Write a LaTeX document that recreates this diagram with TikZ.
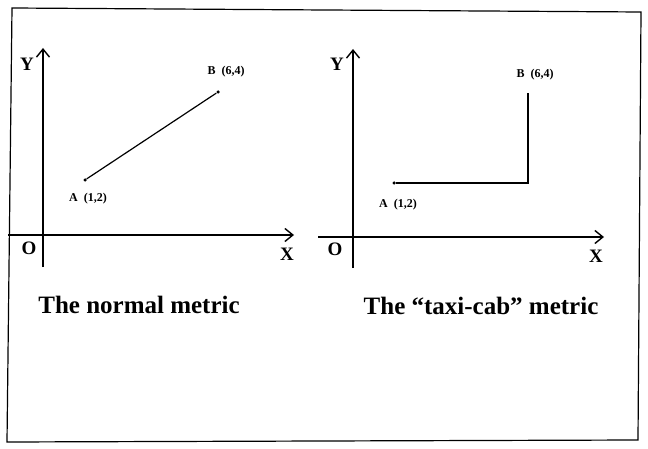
\documentclass[tikz,border=0pt]{standalone}
\usepackage{fontspec}
\setmainfont{Liberation Serif}
\usetikzlibrary{arrows.meta,positioning}

\begin{document}
\begin{tikzpicture}[x=1pt, y=-1pt, >={Straight Barb[length=8pt,width=13pt,line width=1.4pt]},
    axis/.style={->, line width=1.5pt},
    axlbl/.style={font=\fontsize{19}{19}\selectfont\bfseries, inner sep=0pt},
    ptlbl/.style={font=\fontsize{12}{12}\selectfont\bfseries, inner sep=0pt},
    pt/.style={circle, fill, inner sep=0pt, minimum size=3.5pt},
    caption/.style={font=\fontsize{25}{25}\selectfont\bfseries, inner sep=0pt}]
  \useasboundingbox (0,0) rectangle (648,449);
  % Frame
  \draw[line width=1.2pt] (12,8) -- (641,12) -- (638,440) -- (7,442) -- cycle;

  % Left: normal metric
  \coordinate (y1-start) at (43,267);
  \coordinate (y1-end) at (43,48);
  \coordinate (x1-start) at (8,235);
  \coordinate (x1-end) at (294,235);
  \draw[axis] (y1-start) -- (y1-end);
  \draw[axis] (x1-start) -- (x1-end);
  \node[axlbl] (y1-lbl) at (27,64) {Y};
  \node[axlbl] (x1-lbl) at (287,254) {X};
  \node[axlbl] (o1-lbl) at (29,248) {O};
  \node[pt] (a1) at (85,180) {};
  \node[pt] (b1) at (218,92) {};
  \draw[line width=1.2pt] (a1) -- (b1);
  \node[ptlbl] (a1-lbl) at (88,199) {A\enspace(1,2)};
  \node[ptlbl] (b1-lbl) at (226,72) {B\enspace(6,4)};
  \node[caption] (cap1) at (139,305) {The normal metric};

  % Right: taxi-cab metric
  \coordinate (y2-start) at (353,268);
  \coordinate (y2-end) at (353,49);
  \coordinate (x2-start) at (318,237);
  \coordinate (x2-end) at (604,237);
  \draw[axis] (y2-start) -- (y2-end);
  \draw[axis] (x2-start) -- (x2-end);
  \node[axlbl] (y2-lbl) at (337,64) {Y};
  \node[axlbl] (x2-lbl) at (596,256) {X};
  \node[axlbl] (o2-lbl) at (335,249) {O};
  \node[pt] (a2) at (394,183) {};
  \coordinate (b2) at (528,93);
  \draw[line width=2.6pt] (a2) -| (b2);
  \node[ptlbl] (a2-lbl) at (398,205) {A\enspace(1,2)};
  \node[ptlbl] (b2-lbl) at (535,75) {B\enspace(6,4)};
  \node[caption] (cap2) at (481,306) {The “taxi-cab” metric};
\end{tikzpicture}
\end{document}
